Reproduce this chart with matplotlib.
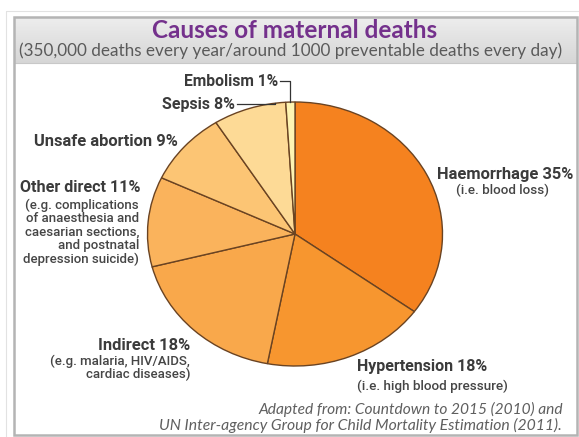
import numpy as np
import matplotlib
matplotlib.use("Agg")
import matplotlib.pyplot as plt
from matplotlib import font_manager
from matplotlib.patches import Rectangle

# ---------------- data ----------------
causes = ["Haemorrhage", "Hypertension", "Indirect", "Other direct",
          "Unsafe abortion", "Sepsis", "Embolism"]
percent = [35, 18, 18, 11, 9, 8, 1]
colors = ["#F5821F", "#F7962F", "#F9A84B", "#FAB35C",
          "#FCC574", "#FDDA96", "#FEF4B2"]
sub_notes = {
    "Haemorrhage": ["(i.e. blood loss)"],
    "Hypertension": ["(i.e. high blood pressure)"],
    "Indirect": ["(e.g. malaria, HIV/AIDS,", "cardiac diseases)"],
    "Other direct": ["(e.g. complications", "of anaesthesia and",
                     "caesarian sections,", "and postnatal",
                     "depression suicide)"],
}
title = "Causes of maternal deaths"
subtitle = "(350,000 deaths every year/around 1000 preventable deaths every day)"
source = ["Adapted from: Countdown to 2015 (2010) and",
          "UN Inter-agency Group for Child Mortality Estimation (2011)."]

# ---------------- fonts ----------------
avail = {f.name for f in font_manager.fontManager.ttflist}
def pick(*names):
    for n in names:
        if n in avail:
            return n
    return "DejaVu Sans"
LAB = pick("Liberation Sans Narrow", "Roboto", "DejaVu Sans")
HUM = pick("Lato", "Open Sans", "DejaVu Sans")

W, H = 579, 437
fig = plt.figure(figsize=(W / 100, H / 100), dpi=100)

# background / frame in pixel coordinates
bg = fig.add_axes([0, 0, 1, 1], zorder=-5)
bg.set_xlim(0, W); bg.set_ylim(H, 0); bg.axis("off")
bg.add_patch(Rectangle((6, 11), W, H, fill=False, ec="#e2e2e2", lw=0.8))
grad = np.linspace(0, 1, 60)[:, None]
bg.imshow(np.dstack([np.interp(grad, [0, 1], [0.93, 0.84])] * 3),
          extent=[14, 577, 63, 17], aspect="auto", zorder=0)
bg.plot([14, 577], [63, 63], color="#c8c8c8", lw=0.8, zorder=1)
bg.add_patch(Rectangle((14, 17), 563, 418, fill=False, ec="#b4b4b4", lw=1.8, zorder=2))

# ---------------- pie ----------------
cx, cy, rx, ry = 295, 234, 147.5, 132
ax = fig.add_axes([(cx - rx) / W, (H - cy - ry) / H, 2 * rx / W, 2 * ry / H])
wedges, _ = ax.pie(percent, colors=colors, startangle=90, counterclock=False,
                   wedgeprops=dict(edgecolor="#6a4322", linewidth=1.0))
ax.set_xlim(-1, 1); ax.set_ylim(-1, 1); ax.set_aspect("auto"); ax.axis("off")

def px2data(x, y):
    return (x - cx) / rx, (cy - y) / ry

# ---------------- text helpers ----------------
renderer = fig.canvas.get_renderer()
def fit(t, width):
    for _ in range(3):
        w = t.get_window_extent(renderer).width
        t.set_fontsize(t.get_fontsize() * width / w)

def ftext(x, y, s, width, ha="left", **kw):
    t = fig.text(x / W, 1 - y / H, s, ha=ha, va="center", **kw)
    fit(t, width)
    return t

DARK = "#3b3b3b"
lab = dict(family=[LAB, "DejaVu Sans"], weight="bold", color=DARK)
small = dict(family=[LAB, "DejaVu Sans"], weight="medium", color="#454545")

ftext(295, 30, title, 285, ha="center", family=[HUM], weight="bold", color="#74318C")
ftext(291, 51, subtitle, 543, ha="center", family=[HUM], color="#5a5a5a")

lbl = {c: f"{c} {p}%" for c, p in zip(causes, percent)}
ftext(437, 175, lbl["Haemorrhage"], 136, **lab)
ftext(503, 190, sub_notes["Haemorrhage"][0], 93, ha="center", **small)
ftext(357, 367, lbl["Hypertension"], 131, **lab)
ftext(357, 386, sub_notes["Hypertension"][0], 151, **small)
ftext(190, 345, lbl["Indirect"], 92, ha="right", **lab)
t = ftext(190, 361, sub_notes["Indirect"][0], 140, ha="right", **small)
fig.text(190 / W, 1 - 374 / H, sub_notes["Indirect"][1], ha="right", va="center",
         fontsize=t.get_fontsize(), **small)
ftext(140, 188, lbl["Other direct"], 121, ha="right", **lab)
t = ftext(139, 205, sub_notes["Other direct"][0], 114, ha="right", **small)
for i, s in enumerate(sub_notes["Other direct"][1:]):
    fig.text(139 / W, 1 - (218.5 + 13.5 * i) / H, s, ha="right", va="center",
             fontsize=t.get_fontsize(), **small)
ftext(178, 141, lbl["Unsafe abortion"], 143, ha="right", **lab)
ftext(235, 104, lbl["Sepsis"], 73, ha="right", **lab)
ftext(278, 81, lbl["Embolism"], 95, ha="right", **lab)

# leader lines derived from wedge geometry
def edge_pt(theta_deg):
    th = np.deg2rad(theta_deg)
    return np.cos(th), np.sin(th)
emb = wedges[6]
ex, ey = edge_pt((emb.theta1 + emb.theta2) / 2)
ty = px2data(0, 81)[1]
x0 = px2data(280, 0)[0]
ax.plot([x0, ex, ex], [ty, ty, ey], color="#333333", lw=0.9, clip_on=False)
sep = wedges[5]
sx, sy = edge_pt(sep.theta1 + 0.15 * (sep.theta2 - sep.theta1))
ty2 = px2data(0, 104)[1]
x1 = px2data(237, 0)[0]
ax.plot([x1, sx, sx], [ty2, ty2, sy], color="#333333", lw=0.9, clip_on=False)

# source
ftext(563, 409, source[0], 305, ha="right", family=[HUM], style="italic", color="#5f5f5f")
ftext(562, 425, source[1], 402, ha="right", family=[HUM], style="italic", color="#5f5f5f")

fig.savefig("out.png", dpi=100)
